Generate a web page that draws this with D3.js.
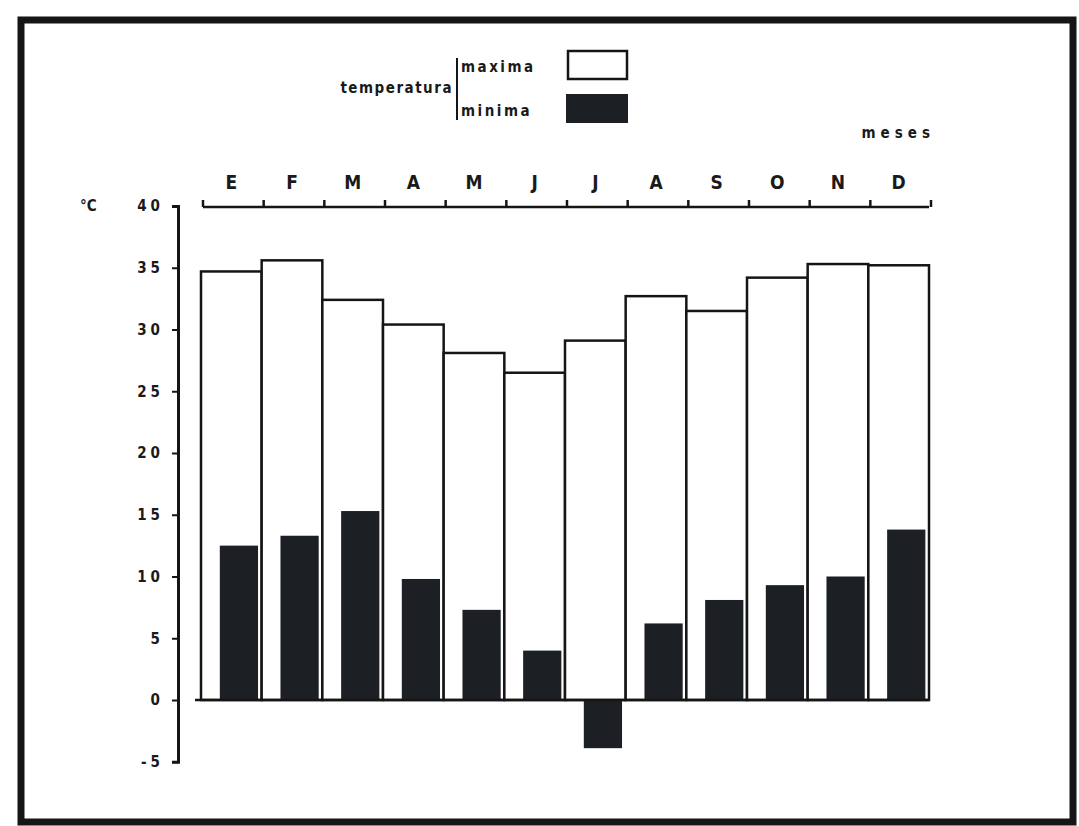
<!DOCTYPE html>
<html>
<head>
<meta charset="utf-8">
<script src="https://cdn.jsdelivr.net/npm/d3@7/dist/d3.min.js"></script>
<style>
  html, body { margin: 0; padding: 0; background: #ffffff; }
  svg { display: block; }
  text { font-family: "DejaVu Sans Condensed", "DejaVu Sans", sans-serif; fill: #1a1a1a; }
</style>
</head>
<body>
<svg id="chart" width="1079" height="826"></svg>
<script>
const months = ["E", "F", "M", "A", "M", "J", "J", "A", "S", "O", "N", "D"];
const tmax = [34.7, 35.6, 32.4, 30.4, 28.1, 26.5, 29.1, 32.7, 31.5, 34.2, 35.3, 35.2];
const tmin = [12.5, 13.3, 15.3, 9.8, 7.3, 4.0, -3.9, 6.2, 8.1, 9.3, 10.0, 13.8];
const yTicks = [-5, 0, 5, 10, 15, 20, 25, 30, 35, 40];
const legendLabels = ["maxima", "minima"];

const svg = d3.select("#chart");
const ink = "#151515";

// photo frame
svg.append("rect").attr("x", 21).attr("y", 20).attr("width", 1052).attr("height", 802)
  .attr("fill", "none").attr("stroke", ink).attr("stroke-width", 7);

const idx = months.map((m, i) => i);
const x = d3.scaleBand().domain(idx).range([201, 929]).paddingInner(0).paddingOuter(0);
const y = d3.scaleLinear().domain([0, 40]).range([700, 206]);

// max bars (white, outlined)
svg.append("g").selectAll("rect").data(idx).join("rect")
  .attr("x", i => x(i))
  .attr("y", i => y(tmax[i]))
  .attr("width", x.bandwidth())
  .attr("height", i => y(0) - y(tmax[i]))
  .attr("fill", "#ffffff").attr("stroke", ink).attr("stroke-width", 2.5);

// min bars (dark)
const bw = x.bandwidth();
svg.append("g").selectAll("rect").data(idx).join("rect")
  .attr("x", i => x(i) + bw * 0.31)
  .attr("y", i => y(Math.max(0, tmin[i])))
  .attr("width", bw * 0.63)
  .attr("height", i => Math.abs(y(tmin[i]) - y(0)))
  .attr("fill", "#1c1f24");

// baseline
svg.append("line").attr("x1", 195).attr("x2", 929).attr("y1", y(0)).attr("y2", y(0))
  .attr("stroke", ink).attr("stroke-width", 2.5);

// y axis
const yAxis = d3.axisLeft(d3.scaleLinear().domain([-5, 40]).range([y(-5), y(40)]))
  .tickValues(yTicks).tickSize(6).tickPadding(8).tickFormat(d => String(d));
const gy = svg.append("g").attr("transform", "translate(178,0)").call(yAxis);
gy.select(".domain").attr("stroke", ink).attr("stroke-width", 3);
gy.selectAll(".tick line").attr("stroke", ink).attr("stroke-width", 2);
gy.selectAll(".tick text").attr("font-size", 15).attr("font-weight", "bold")
  .attr("fill", "#2a2a2a").style("letter-spacing", "4px");

svg.append("text").attr("x", 80).attr("y", 211).attr("font-size", 15).attr("font-weight", "bold")
  .text("°C");

// top month axis
const axisY = 207;
const gx = svg.append("g");
gx.append("line").attr("x1", x.range()[0] + 2).attr("x2", x.range()[1])
  .attr("y1", axisY).attr("y2", axisY).attr("stroke", ink).attr("stroke-width", 2.5);
const bounds = idx.map(i => x(i)).concat([x.range()[1]]);
gx.selectAll("line.tk").data(bounds).join("line").attr("class", "tk")
  .attr("x1", d => d + 2).attr("x2", d => d + 2)
  .attr("y1", axisY).attr("y2", axisY - 7)
  .attr("stroke", ink).attr("stroke-width", 2.5);
gx.selectAll("text").data(idx).join("text")
  .attr("x", i => x(i) + bw / 2)
  .attr("y", 189)
  .attr("text-anchor", "middle")
  .attr("font-size", 19)
  .attr("font-weight", 600)
  .text(i => months[i]);

svg.append("text").attr("x", 935).attr("y", 138).attr("text-anchor", "end")
  .attr("font-size", 15).attr("font-weight", "bold").style("letter-spacing", "5px")
  .text("meses");

// legend
svg.append("text").attr("x", 453).attr("y", 93).attr("text-anchor", "end")
  .attr("font-size", 15).attr("font-weight", "bold").style("letter-spacing", "1.5px").text("temperatura");
svg.append("line").attr("x1", 457).attr("x2", 457).attr("y1", 58).attr("y2", 120)
  .attr("stroke", ink).attr("stroke-width", 2);
svg.append("text").attr("x", 461).attr("y", 72).attr("font-size", 15).attr("font-weight", "bold")
  .style("letter-spacing", "2.5px").text(legendLabels[0]);
svg.append("text").attr("x", 461).attr("y", 116).attr("font-size", 15).attr("font-weight", "bold")
  .style("letter-spacing", "2.5px").text(legendLabels[1]);
svg.append("rect").attr("x", 568).attr("y", 51).attr("width", 59).attr("height", 28)
  .attr("fill", "#fff").attr("stroke", ink).attr("stroke-width", 2.5);
svg.append("rect").attr("x", 566).attr("y", 94).attr("width", 62).attr("height", 29)
  .attr("fill", "#1c1f24");
</script>
</body>
</html>
